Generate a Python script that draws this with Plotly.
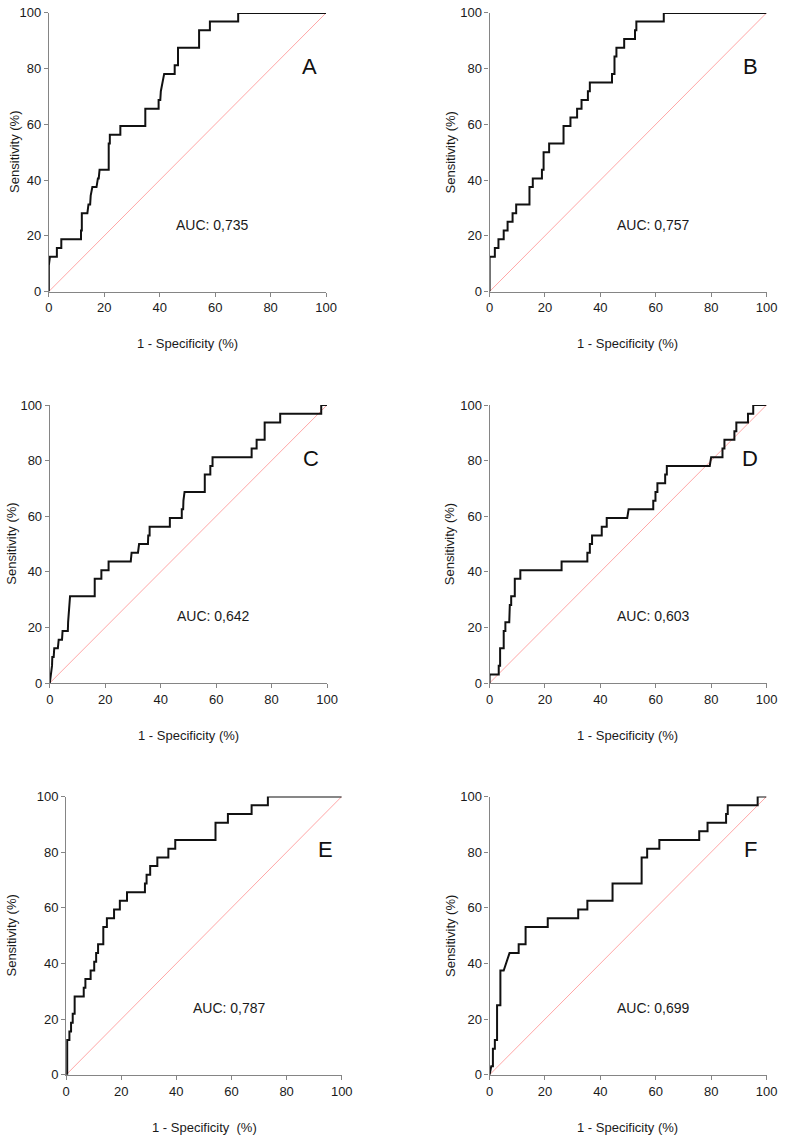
import plotly.graph_objects as go

# ---- data: ROC vertices (1 - specificity %, sensitivity %) ----
A_fpr = [0, 0, 0.4, 2.9, 2.9, 4.5, 4.5, 11.6, 11.6, 11.9, 11.9, 13.9, 14.3, 14.9, 15.1, 15.7, 17.2, 17.7, 18.0, 18.3, 21.6, 21.6, 22.0, 22.0, 25.8, 25.8, 34.8, 34.8, 39.6, 39.6, 40.2, 40.4, 41.6, 45.4, 45.4, 46.6, 46.6, 54.2, 54.2, 58.1, 58.1, 68.3, 68.3, 100]
A_tpr = [0, 9.4, 12.5, 12.5, 15.6, 15.6, 18.75, 18.75, 21.9, 21.9, 28.1, 28.1, 31.25, 31.25, 34.4, 37.5, 37.5, 40.6, 40.6, 43.75, 43.75, 53.1, 53.1, 56.25, 56.25, 59.4, 59.4, 65.6, 65.6, 68.75, 68.75, 71.9, 78.1, 78.1, 81.25, 81.25, 87.5, 87.5, 93.75, 93.75, 96.9, 96.9, 100, 100]

B_fpr = [0, 0, 1.9, 1.9, 3.2, 3.2, 5.1, 5.1, 6.5, 6.5, 8.3, 8.3, 9.6, 9.6, 14.4, 14.4, 15.6, 15.6, 18.9, 18.9, 19.5, 19.5, 21.5, 21.5, 26.7, 26.7, 29.2, 29.2, 31.6, 31.6, 33.2, 33.2, 35.5, 35.5, 36.2, 36.2, 44.2, 44.2, 45.1, 45.1, 45.8, 45.8, 48.6, 48.6, 52.5, 52.5, 53.0, 53.0, 62.9, 62.9, 100]
B_tpr = [0, 12.5, 12.5, 15.6, 15.6, 18.75, 18.75, 21.9, 21.9, 25, 25, 28.1, 28.1, 31.25, 31.25, 37.5, 37.5, 40.6, 40.6, 43.75, 43.75, 50, 50, 53.1, 53.1, 59.4, 59.4, 62.5, 62.5, 65.6, 65.6, 68.75, 68.75, 71.9, 71.9, 75, 75, 78.1, 78.1, 84.4, 84.4, 87.5, 87.5, 90.6, 90.6, 93.75, 93.75, 96.9, 96.9, 100, 100]

C_fpr = [0, 0.8, 0.9, 1.4, 1.6, 2.9, 3.2, 4.4, 4.6, 6.5, 6.6, 6.8, 7.3, 16.2, 16.2, 18.6, 18.6, 21.2, 21.2, 29.2, 29.5, 31.8, 32.2, 35.4, 35.5, 36.0, 36.0, 43.3, 43.3, 47.6, 47.6, 48.1, 48.2, 48.6, 55.9, 55.9, 57.9, 57.9, 58.7, 58.7, 72.8, 72.8, 74.6, 74.6, 77.5, 77.5, 83.1, 83.1, 97.9, 97.9, 100]
C_tpr = [0, 6.25, 9.4, 9.4, 12.5, 12.5, 15.6, 15.6, 18.75, 18.75, 21.9, 25, 31.25, 31.25, 37.5, 37.5, 40.6, 40.6, 43.75, 43.75, 46.9, 46.9, 50, 50, 53.1, 53.1, 56.25, 56.25, 59.4, 59.4, 62.5, 62.5, 65.6, 68.75, 68.75, 75, 75, 78.1, 78.1, 81.25, 81.25, 84.4, 84.4, 87.5, 87.5, 93.75, 93.75, 96.9, 96.9, 100, 100]

D_fpr = [0, 0, 3.3, 3.3, 3.8, 3.8, 5.1, 5.1, 5.7, 5.7, 7.1, 7.3, 7.8, 7.8, 9.1, 9.1, 11.1, 11.1, 26.0, 26.0, 35.3, 35.3, 36.2, 36.2, 37.0, 37.0, 40.5, 40.5, 42.3, 42.3, 49.7, 50.2, 59.1, 59.1, 59.9, 59.9, 60.6, 60.6, 63.4, 63.4, 64.0, 64.0, 79.5, 80.0, 84.1, 84.1, 84.8, 84.8, 88.4, 88.4, 89.1, 89.1, 93.3, 93.3, 95.2, 95.2, 100]
D_tpr = [0, 3.1, 3.1, 6.25, 6.25, 12.5, 12.5, 18.75, 18.75, 21.9, 21.9, 28.1, 28.1, 31.25, 31.25, 37.5, 37.5, 40.6, 40.6, 43.75, 43.75, 46.9, 46.9, 50, 50, 53.1, 53.1, 56.25, 56.25, 59.4, 59.4, 62.5, 62.5, 65.6, 65.6, 68.75, 68.75, 71.9, 71.9, 75, 75, 78.1, 78.1, 81.25, 81.25, 84.4, 84.4, 87.5, 87.5, 90.6, 90.6, 93.75, 93.75, 96.9, 96.9, 100, 100]

E_fpr = [0, 0.4, 0.4, 1.2, 1.2, 1.8, 1.8, 2.4, 2.4, 3.1, 3.1, 6.4, 6.4, 7.0, 7.0, 8.9, 8.9, 10.2, 10.2, 10.9, 10.9, 11.6, 11.6, 13.5, 13.5, 14.8, 14.8, 17.4, 17.4, 19.5, 19.5, 22.1, 22.1, 28.6, 28.6, 29.2, 29.2, 30.5, 30.5, 33.1, 33.1, 37.1, 37.1, 39.6, 39.6, 54.2, 54.2, 58.7, 58.7, 67.3, 67.3, 73.2, 73.2, 100]
E_tpr = [0, 0, 12.5, 12.5, 15.6, 15.6, 18.75, 18.75, 21.9, 21.9, 28.1, 28.1, 31.25, 31.25, 34.4, 34.4, 37.5, 37.5, 40.6, 40.6, 43.75, 43.75, 46.9, 46.9, 53.1, 53.1, 56.25, 56.25, 59.4, 59.4, 62.5, 62.5, 65.6, 65.6, 68.75, 68.75, 71.9, 71.9, 75, 75, 78.1, 78.1, 81.25, 81.25, 84.4, 84.4, 90.6, 90.6, 93.75, 93.75, 96.9, 96.9, 100, 100]

F_fpr = [0, 0.6, 1.2, 1.2, 1.9, 1.9, 2.7, 2.7, 3.9, 3.9, 5.1, 7.2, 10.5, 10.5, 13.0, 13.0, 21.0, 21.0, 32.0, 32.0, 35.3, 35.3, 44.4, 44.4, 54.9, 54.9, 56.9, 56.9, 61.3, 61.3, 75.7, 75.7, 78.7, 78.7, 85.4, 85.4, 86.0, 86.0, 96.8, 96.8, 100]
F_tpr = [0, 3.1, 3.1, 9.4, 9.4, 12.5, 12.5, 25, 25, 37.5, 37.5, 43.75, 43.75, 46.9, 46.9, 53.1, 53.1, 56.25, 56.25, 59.4, 59.4, 62.5, 62.5, 68.75, 68.75, 78.1, 78.1, 81.25, 81.25, 84.4, 84.4, 87.5, 87.5, 90.6, 90.6, 93.75, 93.75, 96.9, 96.9, 100, 100]

panel_letters = ["A", "B", "C", "D", "E", "F"]
auc_labels = ["AUC: 0,735", "AUC: 0,757", "AUC: 0,642", "AUC: 0,603", "AUC: 0,787", "AUC: 0,699"]
x_titles = ["1 - Specificity (%)", "1 - Specificity (%)", "1 - Specificity (%)",
            "1 - Specificity (%)", "1 - Specificity  (%)", "1 - Specificity (%)"]
y_title = "Sensitivity (%)"
tick_values = [0, 20, 40, 60, 80, 100]
diag = [0, 100]

curves = [(A_fpr, A_tpr), (B_fpr, B_tpr), (C_fpr, C_tpr),
          (D_fpr, D_tpr), (E_fpr, E_tpr), (F_fpr, F_tpr)]

# ---- layout (pixel boxes of each plot area) ----
W, H = 789, 1144
boxes = [  # left, right, top, bottom in px
    (45.7, 328.3, 6.0, 288.3),
    (495.0, 777.3, 6.0, 288.3),
    (46.7, 329.3, 403.3, 685.0),
    (495.0, 777.3, 403.3, 685.0),
    (63.3, 344.3, 800.0, 1082.0),
    (495.0, 777.3, 800.0, 1082.0),
]
ytitle_pos = [(10, 147), (455, 147), (8, 544), (455, 544), (8, 941), (455, 941)]
xtitle_pos = [(187, 341), (636, 341), (188, 738), (636, 738), (204, 1135), (636, 1135)]

FONT = "Liberation Sans, Arial, Helvetica, sans-serif"
AXIS_GRAY = "#858585"

fig = go.Figure()
annotations = []
layout = dict(
    width=W, height=H,
    margin=dict(l=0, r=0, t=0, b=0),
    paper_bgcolor="white", plot_bgcolor="white",
    showlegend=False,
    font=dict(family=FONT, size=13, color="#1a1a1a"),
)

for i, (box, (fx, ty)) in enumerate(zip(boxes, curves)):
    n = "" if i == 0 else str(i + 1)
    xa, ya = "x" + n, "y" + n
    l, r, t, b = box
    axis_common = dict(
        range=[0, 100], tickvals=tick_values, showgrid=False, zeroline=False,
        showline=True, linecolor=AXIS_GRAY, linewidth=1.2,
        ticks="outside", ticklen=4, tickwidth=1.2, tickcolor=AXIS_GRAY,
        tickfont=dict(family=FONT, size=13, color="#1a1a1a"),
        fixedrange=True,
    )
    layout["xaxis" + n] = dict(axis_common, domain=[l / W, r / W], anchor=ya)
    layout["yaxis" + n] = dict(axis_common, domain=[1 - b / H, 1 - t / H], anchor=xa)

    fig.add_trace(go.Scatter(x=diag, y=diag, mode="lines", xaxis=xa, yaxis=ya,
                             line=dict(color="#ff9c9c", width=0.9), cliponaxis=False,
                             hoverinfo="skip"))
    fig.add_trace(go.Scatter(x=fx, y=ty, mode="lines", xaxis=xa, yaxis=ya,
                             line=dict(color="#111111", width=2), cliponaxis=False))

    annotations.append(dict(x=94.2, y=80.8, xref=xa, yref=ya, text=panel_letters[i],
                            showarrow=False, xanchor="center", yanchor="middle",
                            font=dict(family=FONT, size=22, color="#111111")))
    annotations.append(dict(x=59.1, y=24.0, xref=xa, yref=ya, text=auc_labels[i],
                            showarrow=False, xanchor="center", yanchor="middle",
                            font=dict(family=FONT, size=14, color="#1a1a1a")))
    px, py = ytitle_pos[i]
    annotations.append(dict(x=px / W, y=1 - py / H, xref="paper", yref="paper",
                            text=y_title, textangle=-90, showarrow=False,
                            xanchor="center", yanchor="middle",
                            font=dict(family=FONT, size=13, color="#1a1a1a")))
    px, py = xtitle_pos[i]
    annotations.append(dict(x=px / W, y=1 - py / H, xref="paper", yref="paper",
                            text=x_titles[i], showarrow=False,
                            xanchor="center", yanchor="middle",
                            font=dict(family=FONT, size=13, color="#1a1a1a")))

layout["annotations"] = annotations
fig.update_layout(**layout)
fig.write_html("out.html", config={"displayModeBar": False},
               post_script="document.body.style.margin='0px';document.body.style.overflow='hidden';")
